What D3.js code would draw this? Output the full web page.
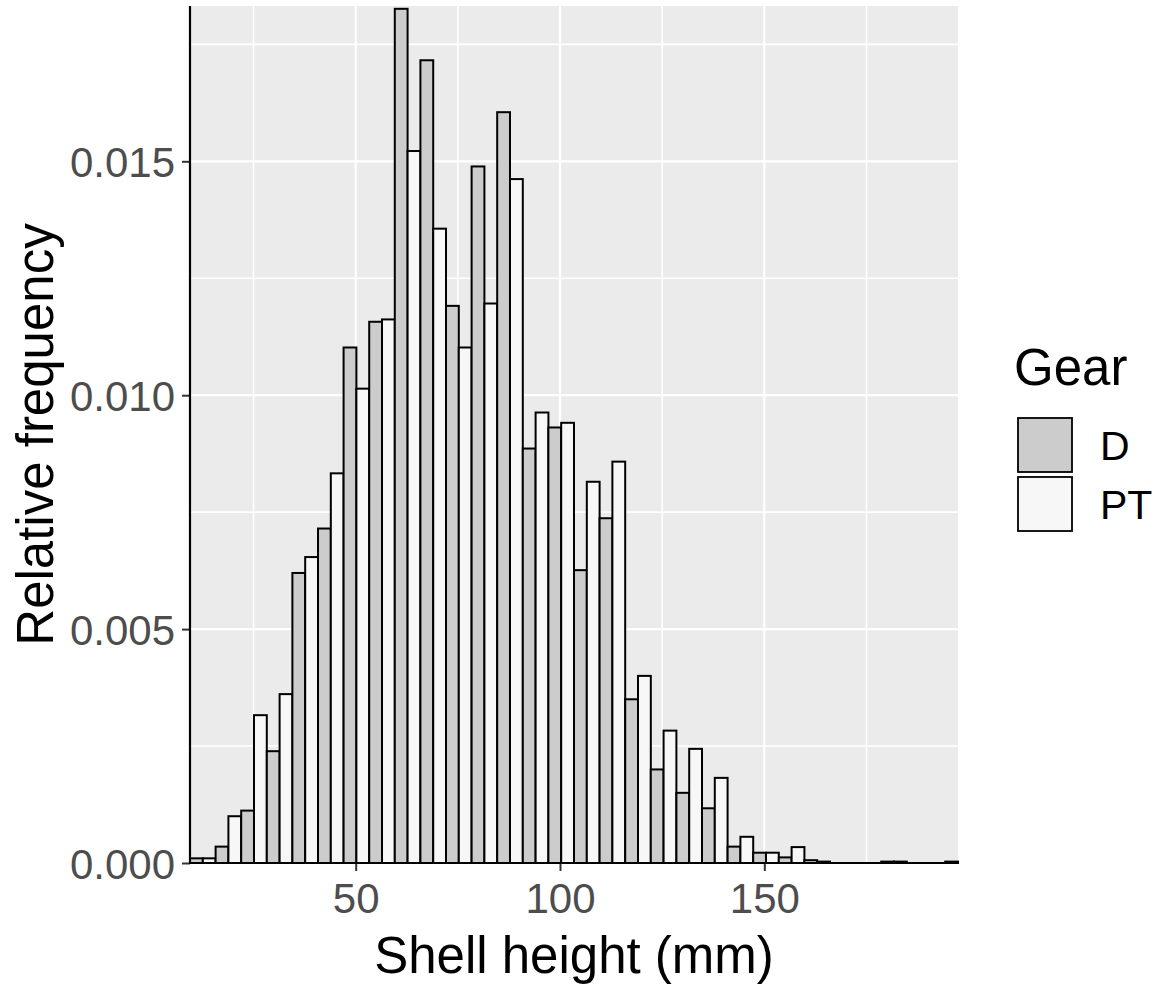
<!DOCTYPE html>
<html>
<head>
<meta charset="utf-8">
<script src="https://d3js.org/d3.v7.min.js"></script>
<style>
  html, body { margin: 0; padding: 0; background: #ffffff; }
  svg { display: block; }
  text { font-family: "Liberation Sans", Arial, sans-serif; }
</style>
</head>
<body>
<svg id="chart" width="1156" height="987"></svg>
<script>
// ---- data ----
const gears = ["D", "PT"];
const binMids = [12.58, 18.85, 25.11, 31.38, 37.64, 43.91, 50.17, 56.44, 62.70, 68.97,
                 75.23, 81.50, 87.76, 94.03, 100.29, 106.56, 112.82, 119.09, 125.35, 131.62,
                 137.88, 144.15, 150.41, 156.68, 162.94, 169.21, 175.47, 181.74, 188.00, 194.27];
const binWidth = 6.265;
const valuesD  = [0.00010, 0.00035, 0.00112, 0.00239, 0.00620, 0.00715, 0.01102, 0.01157, 0.01826, 0.01716,
                  0.01191, 0.01489, 0.01605, 0.00886, 0.00931, 0.00626, 0.00737, 0.00350, 0.00200, 0.00150,
                  0.00117, 0.00035, 0.00022, 0.00012, 0.00006, 0, 0, 0.00003, 0, 0];
const valuesPT = [0.00010, 0.00100, 0.00316, 0.00361, 0.00654, 0.00833, 0.01014, 0.01162, 0.01522, 0.01356,
                  0.01102, 0.01196, 0.01462, 0.00963, 0.00941, 0.00815, 0.00858, 0.00400, 0.00283, 0.00244,
                  0.00182, 0.00056, 0.00022, 0.00034, 0.00003, 0, 0, 0.00003, 0, 0.00003];
const xMajorTicks = [50, 100, 150];
const xMinorTicks = [25, 75, 125, 175];
const yMajorTicks = [0.000, 0.005, 0.010, 0.015];
const yMinorTicks = [0.0025, 0.0075, 0.0125, 0.0175];
const xDomain = [9.45, 197.4];
const yDomain = [0, 0.01832];
const fills = { D: "#CCCCCC", PT: "#F7F7F7" };

// ---- layout ----
const panel = { left: 190, right: 958, top: 6, bottom: 863 };
const svg = d3.select("#chart");

const x = d3.scaleLinear().domain(xDomain).range([panel.left, panel.right]);
const y = d3.scaleLinear().domain(yDomain).range([panel.bottom, panel.top]);

// panel background
svg.append("rect")
  .attr("x", panel.left).attr("y", panel.top)
  .attr("width", panel.right - panel.left).attr("height", panel.bottom - panel.top)
  .attr("fill", "#EBEBEB");

const grid = svg.append("g");
grid.selectAll("line.ymin").data(yMinorTicks).join("line")
  .attr("x1", panel.left).attr("x2", panel.right)
  .attr("y1", d => y(d)).attr("y2", d => y(d))
  .attr("stroke", "#ffffff").attr("stroke-width", 1.6);
grid.selectAll("line.xmin").data(xMinorTicks).join("line")
  .attr("y1", panel.top).attr("y2", panel.bottom)
  .attr("x1", d => x(d)).attr("x2", d => x(d))
  .attr("stroke", "#ffffff").attr("stroke-width", 1.6);
grid.selectAll("line.ymaj").data(yMajorTicks).join("line")
  .attr("x1", panel.left).attr("x2", panel.right)
  .attr("y1", d => y(d)).attr("y2", d => y(d))
  .attr("stroke", "#ffffff").attr("stroke-width", 2.2);
grid.selectAll("line.xmaj").data(xMajorTicks).join("line")
  .attr("y1", panel.top).attr("y2", panel.bottom)
  .attr("x1", d => x(d)).attr("x2", d => x(d))
  .attr("stroke", "#ffffff").attr("stroke-width", 2.2);

// bars (dodged)
const rows = [];
binMids.forEach((m, i) => {
  rows.push({ gear: "D",  x0: m - binWidth / 2, x1: m, v: valuesD[i] });
  rows.push({ gear: "PT", x0: m, x1: m + binWidth / 2, v: valuesPT[i] });
});
svg.append("g").selectAll("rect").data(rows).join("rect")
  .attr("x", d => x(d.x0))
  .attr("width", d => x(d.x1) - x(d.x0))
  .attr("y", d => y(d.v))
  .attr("height", d => y(0) - y(d.v))
  .attr("fill", d => fills[d.gear])
  .attr("stroke", "#000000")
  .attr("stroke-width", 2);

// axes
const xAxis = d3.axisBottom(x).tickValues(xMajorTicks).tickSize(8).tickPadding(11).tickFormat(d3.format("d"));
const yAxis = d3.axisLeft(y).tickValues(yMajorTicks).tickSize(8).tickPadding(7).tickFormat(d3.format(".3f"));

const gx = svg.append("g").attr("transform", `translate(0,${panel.bottom})`).call(xAxis);
const gy = svg.append("g").attr("transform", `translate(${panel.left},0)`).call(yAxis);
[gx, gy].forEach(g => {
  g.select(".domain").remove();
  g.selectAll(".tick line").attr("stroke", "#333333").attr("stroke-width", 2);
  g.selectAll(".tick text").attr("fill", "#4D4D4D").style("font-size", "42px");
});
gy.selectAll(".tick text").attr("dy", "0.36em");
gx.selectAll(".tick text").attr("dy", "0.74em");

// axis lines
svg.append("line").attr("x1", panel.left).attr("x2", panel.left)
  .attr("y1", panel.top).attr("y2", panel.bottom + 1)
  .attr("stroke", "#000").attr("stroke-width", 2.2);
svg.append("line").attr("x1", panel.left - 1).attr("x2", panel.right)
  .attr("y1", panel.bottom).attr("y2", panel.bottom)
  .attr("stroke", "#000").attr("stroke-width", 2.2);

// axis titles
svg.append("text")
  .attr("x", (panel.left + panel.right) / 2).attr("y", 973)
  .attr("text-anchor", "middle").attr("fill", "#000")
  .style("font-size", "51px").text("Shell height (mm)");
svg.append("text")
  .attr("transform", `translate(53,${(panel.top + panel.bottom) / 2}) rotate(-90)`)
  .attr("text-anchor", "middle").attr("fill", "#000")
  .style("font-size", "51px").text("Relative frequency");

// legend
const lg = svg.append("g").attr("transform", "translate(1017,0)");
lg.append("text").attr("x", -3).attr("y", 385).attr("fill", "#000")
  .style("font-size", "51px").text("Gear");
gears.forEach((g, i) => {
  const top = 418 + i * 59;
  lg.append("rect").attr("x", 1).attr("y", top).attr("width", 54).attr("height", 54)
    .attr("fill", fills[g]).attr("stroke", "#000").attr("stroke-width", 1.8);
  lg.append("text").attr("x", 83).attr("y", top + 27).attr("dy", "0.36em")
    .attr("fill", "#000").style("font-size", "41px").text(g);
});
</script>
</body>
</html>
